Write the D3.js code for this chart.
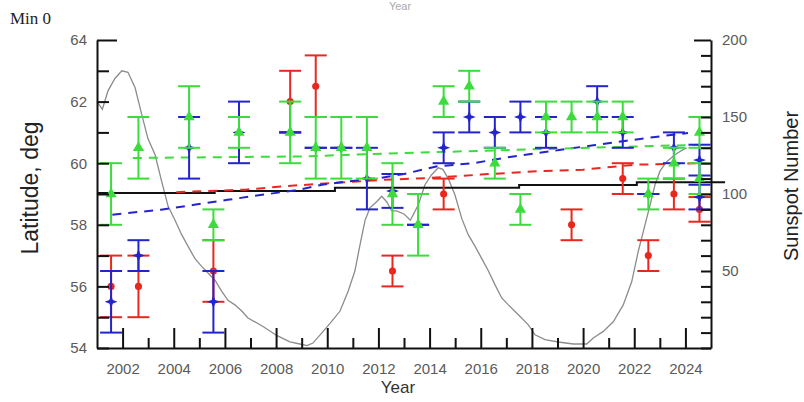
<!DOCTYPE html>
<html>
<head>
<meta charset="utf-8">
<script src="https://cdn.jsdelivr.net/npm/d3@7"></script>
<style>
  html, body { margin: 0; padding: 0; background: #fff; }
  svg text { font-family: "Liberation Sans", Arial, sans-serif; }
</style>
</head>
<body>
<div id="chart"></div>
<script>
// latitude points: [year, latitude, error]
const redPoints = [
  [2001.55, 56.0, 1.0], [2002.62, 56.0, 1.0], [2005.55, 56.5, 1.0],
  [2008.55, 62.0, 1.0], [2009.55, 62.5, 1.0], [2012.55, 56.5, 0.5],
  [2014.55, 59.0, 0.5], [2019.55, 58.0, 0.5], [2021.55, 59.5, 0.5],
  [2022.55, 57.0, 0.5], [2023.55, 59.0, 0.5], [2024.55, 58.5, 0.4]
];
const bluePoints = [
  [2001.55, 55.5, 1.0], [2002.62, 57.0, 0.5], [2004.6, 60.5, 1.0],
  [2005.55, 55.5, 1.0], [2006.55, 61.0, 1.0], [2008.55, 61.0, 0],
  [2009.55, 60.5, 0], [2010.55, 60.5, 0], [2011.55, 59.5, 1.0],
  [2012.55, 59.1, 0.55], [2013.55, 58.0, 0], [2014.55, 60.5, 0.5],
  [2015.55, 61.5, 0.5], [2016.55, 61.0, 0.5], [2017.55, 61.5, 0.5],
  [2018.55, 61.0, 0.5], [2020.55, 62.0, 0.5], [2021.55, 61.0, 0.5],
  [2022.55, 59.0, 0], [2023.55, 60.5, 0.5], [2024.55, 60.1, 0.5],
  [2024.55, 58.9, 0.4]
];
const greenPoints = [
  [2001.55, 59.0, 1.0], [2002.62, 60.5, 1.0], [2004.6, 61.5, 1.0],
  [2005.55, 58.0, 0.5], [2006.55, 61.0, 0.5], [2008.55, 61.0, 1.0],
  [2009.55, 60.5, 1.0], [2010.55, 60.5, 1.0], [2011.55, 60.5, 1.0],
  [2012.55, 59.0, 1.0], [2013.55, 58.0, 1.0], [2014.55, 62.0, 0.5],
  [2015.55, 62.5, 0.5], [2016.55, 60.0, 0.5], [2017.55, 58.5, 0.5],
  [2018.55, 61.5, 0.5], [2019.55, 61.5, 0.5], [2020.55, 61.5, 0.5],
  [2021.55, 61.5, 0.5], [2022.55, 59.0, 0.5], [2023.55, 60.0, 0.5],
  [2024.55, 61.0, 0.5], [2024.55, 59.5, 0.5]
];

// trend lines [year, latitude]
const redTrend = [
  [2004.1, 59.06], [2006.8, 59.14], [2008.3, 59.25], [2010.2, 59.36],
  [2012.2, 59.46], [2014.0, 59.52], [2016.0, 59.63], [2018.2, 59.74],
  [2020.0, 59.79], [2022.0, 59.95], [2024.4, 60.0]
];
const blueTrend = [
  [2001.6, 58.33], [2003.5, 58.49], [2004.8, 58.65], [2006.1, 58.81],
  [2007.0, 58.92], [2008.9, 59.14], [2009.8, 59.3], [2010.8, 59.41],
  [2012.1, 59.52], [2013.0, 59.65], [2014.3, 59.9], [2015.7, 60.0],
  [2016.9, 60.17], [2018.2, 60.33], [2020.4, 60.58], [2021.7, 60.73],
  [2023.0, 60.87], [2024.1, 60.98]
];
const greenTrend = [
  [2002.4, 60.17], [2009.0, 60.22], [2013.0, 60.33], [2018.0, 60.45], [2024.6, 60.6]
];
const meanSteps = [
  [2001.0, 59.03], [2005.6, 59.1], [2010.3, 59.2], [2017.5, 59.29],
  [2022.1, 59.38], [2025.55, 59.38]
];

// smoothed sunspot number [year, SSN]
const sunspots = [
  [2001.0, 160], [2001.21, 155], [2001.43, 167], [2001.7, 175], [2001.97, 180],
  [2002.21, 179], [2002.49, 169], [2002.75, 151.5], [2002.99, 136], [2003.27, 125.5],
  [2003.53, 108], [2003.78, 92], [2004.05, 83], [2004.31, 73.6], [2004.56, 66],
  [2004.83, 58], [2005.09, 53], [2005.34, 48.7], [2005.61, 44], [2005.87, 37],
  [2006.12, 31], [2006.39, 28], [2006.66, 24], [2006.9, 19.5], [2007.49, 14],
  [2008.04, 8], [2008.54, 4], [2008.93, 2.6], [2009.21, 1.5], [2009.44, 3.2],
  [2009.78, 9.7], [2010.11, 16], [2010.5, 24], [2010.82, 37], [2011.08, 50],
  [2011.28, 67], [2011.48, 83], [2011.67, 91], [2011.93, 95], [2012.13, 98.5],
  [2012.32, 95], [2012.52, 89], [2012.71, 89], [2013.0, 87], [2013.25, 83],
  [2013.56, 93], [2013.82, 106], [2014.08, 112.5], [2014.34, 117], [2014.52, 116],
  [2014.73, 110], [2014.99, 99.5], [2015.26, 84], [2015.51, 73.6], [2015.78, 66],
  [2016.04, 58], [2016.3, 50], [2016.56, 41], [2016.82, 32.5], [2017.08, 28],
  [2017.47, 21.6], [2017.86, 15], [2018.12, 8.6], [2018.51, 5.4], [2019.03, 3.9],
  [2019.62, 2.6], [2020.14, 2.6], [2020.4, 6.5], [2020.79, 10.8], [2021.18, 17],
  [2021.57, 28], [2021.9, 43], [2022.16, 63], [2022.42, 80], [2022.62, 93],
  [2022.81, 106], [2023.01, 115], [2023.27, 121], [2023.59, 125.5], [2023.92, 129],
  [2024.05, 130]
];

const yearTicks = d3.range(2002, 2025);
const latTicks = d3.range(54, 65);
const ssnTicks = d3.range(0, 201, 10);

const width = 804, height = 402;
const plot = {left: 97, right: 711, top: 40, bottom: 348};

const svg = d3.select('#chart').append('svg')
  .attr('width', width)
  .attr('height', height);

const x = d3.scaleLinear().domain([2001, 2025]).range([plot.left, plot.right]);
const y = d3.scaleLinear().domain([54, 64]).range([plot.bottom, plot.top]);
const y2 = d3.scaleLinear().domain([0, 200]).range([plot.bottom, plot.top]);

// sunspot curve
svg.append('path')
  .datum(sunspots)
  .attr('fill', 'none')
  .attr('stroke', '#8c8c8c')
  .attr('stroke-width', 1.3)
  .attr('d', d3.line().x(d => x(d[0])).y(d => y2(d[1])));

// mean latitude
svg.append('path')
  .datum(meanSteps)
  .attr('fill', 'none')
  .attr('stroke', '#111')
  .attr('stroke-width', 2)
  .attr('d', d3.line().x(d => x(d[0])).y(d => y(d[1])).curve(d3.curveStepAfter));

const trends = [
  {data: redTrend, color: '#e8281e'},
  {data: blueTrend, color: '#2424cc'},
  {data: greenTrend, color: '#3cdc3c'}
];
trends.forEach(t => {
  svg.append('path')
    .datum(t.data)
    .attr('fill', 'none')
    .attr('stroke', t.color)
    .attr('stroke-width', 2)
    .attr('stroke-dasharray', '9,7')
    .attr('d', d3.line().x(d => x(d[0])).y(d => y(d[1])));
});

// four pointed star for the blue series
const star4 = {
  draw(ctx, size) {
    const r = Math.sqrt(size), ri = r * 0.38;
    for (let i = 0; i < 8; i++) {
      const a = i * Math.PI / 4 - Math.PI / 2;
      const rr = i % 2 ? ri : r;
      if (i === 0) ctx.moveTo(rr * Math.cos(a), rr * Math.sin(a));
      else ctx.lineTo(rr * Math.cos(a), rr * Math.sin(a));
    }
    ctx.closePath();
  }
};

const series = [
  {data: redPoints, color: '#e8281e', symbol: d3.symbolCircle, size: 40},
  {data: bluePoints, color: '#2424cc', symbol: star4, size: 42},
  {data: greenPoints, color: '#3cdc3c', symbol: d3.symbolTriangle, size: 55}
];

const capW = 11;
series.forEach(s => {
  const g = svg.append('g');
  const bars = g.selectAll('g.bar').data(s.data).enter().append('g').attr('class', 'bar');
  bars.append('line')
    .attr('x1', d => x(d[0])).attr('x2', d => x(d[0]))
    .attr('y1', d => y(d[1] + d[2])).attr('y2', d => y(d[1] - d[2]));
  bars.append('line')
    .attr('x1', d => x(d[0]) - capW).attr('x2', d => x(d[0]) + capW)
    .attr('y1', d => y(d[1] + d[2])).attr('y2', d => y(d[1] + d[2]));
  bars.append('line')
    .attr('x1', d => x(d[0]) - capW).attr('x2', d => x(d[0]) + capW)
    .attr('y1', d => y(d[1] - d[2])).attr('y2', d => y(d[1] - d[2]));
  bars.selectAll('line').attr('stroke', s.color).attr('stroke-width', 2);
  g.selectAll('path.mark').data(s.data).enter().append('path')
    .attr('class', 'mark')
    .attr('d', d3.symbol().type(s.symbol).size(s.size))
    .attr('transform', d => `translate(${x(d[0])},${y(d[1])})`)
    .attr('fill', s.color);
});

// axes
const labelColor = '#5a5a5a';

const xAxis = svg.append('g')
  .attr('transform', `translate(0,${plot.bottom})`)
  .call(d3.axisBottom(x).tickValues(yearTicks).tickSize(-10).tickSizeOuter(0).tickPadding(15)
    .tickFormat(d => d % 2 === 0 ? d : ''));
xAxis.selectAll('.tick line').filter(d => d % 2 === 0).attr('y2', -20);

const yAxis = svg.append('g')
  .attr('transform', `translate(${plot.left},0)`)
  .call(d3.axisLeft(y).tickValues(latTicks).tickSize(-12).tickSizeOuter(0).tickPadding(10)
    .tickFormat(d => d % 2 === 0 ? d : ''));
yAxis.selectAll('.tick line').filter(d => d === 64).attr('x2', 20);

const y2Axis = svg.append('g')
  .attr('transform', `translate(${plot.right},0)`)
  .call(d3.axisRight(y2).tickValues(ssnTicks).tickSize(-10).tickSizeOuter(0).tickPadding(11)
    .tickFormat(d => d % 50 === 0 && d > 0 ? d : ''));
y2Axis.selectAll('.tick line').filter(d => d === 200).attr('x2', -17);

[xAxis, yAxis, y2Axis].forEach(a => {
  a.select('.domain').attr('stroke', '#111').attr('stroke-width', 2);
  a.selectAll('.tick line').attr('stroke', '#111').attr('stroke-width', 2);
  a.selectAll('.tick text')
    .attr('fill', labelColor)
    .style('font-size', '15px')
    .style('font-family', '"Liberation Sans", Arial, sans-serif');
});

// titles
svg.append('text')
  .attr('x', 398).attr('y', 393)
  .attr('text-anchor', 'middle')
  .attr('fill', '#333')
  .style('font-size', '17px')
  .text('Year');

// faint title remnant at the very top
svg.append('text')
  .attr('x', 400).attr('y', 10)
  .attr('text-anchor', 'middle')
  .attr('fill', '#aaa')
  .style('font-size', '11px')
  .text('Year');

svg.append('text')
  .attr('transform', 'translate(38,188) rotate(-90)')
  .attr('text-anchor', 'middle')
  .attr('fill', '#222')
  .style('font-size', '23px')
  .text('Latitude, deg');

svg.append('text')
  .attr('transform', 'translate(798,186) rotate(-90)')
  .attr('text-anchor', 'middle')
  .attr('fill', '#222')
  .style('font-size', '20px')
  .text('Sunspot Number');

svg.append('text')
  .attr('x', 10).attr('y', 24)
  .attr('fill', '#222')
  .style('font-family', '"Liberation Serif", "Times New Roman", serif')
  .style('font-size', '17px')
  .text('Min 0');
</script>
</body>
</html>
